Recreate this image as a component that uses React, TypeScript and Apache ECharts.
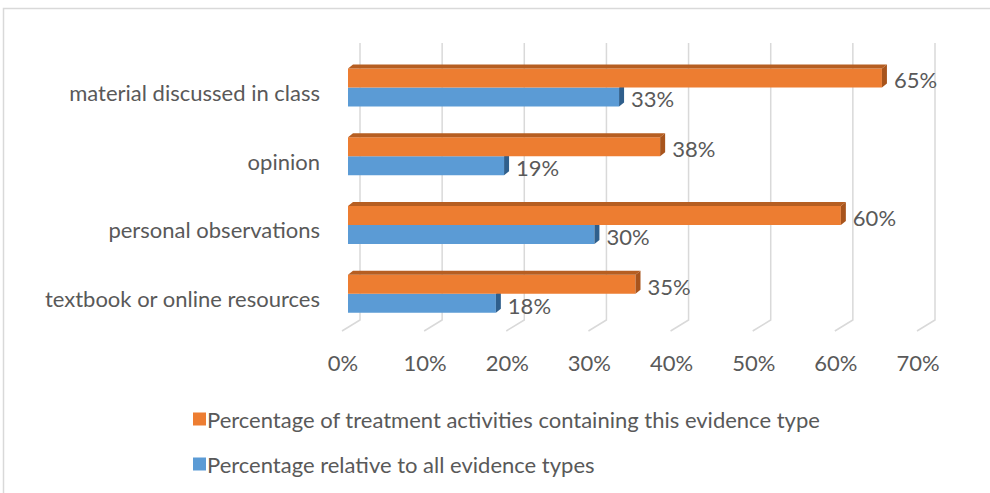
import React, { useEffect, useRef } from "react";
import * as echarts from "echarts";

const categories = [
  "textbook or online resources",
  "personal observations",
  "opinion",
  "material discussed in class",
];
const treatmentPct = [35, 60, 38, 65];
const relativePct = [18, 30, 19, 33];
const xTicks = [0, 10, 20, 30, 40, 50, 60, 70];
const seriesNames = [
  "Percentage of treatment activities containing this evidence type",
  "Percentage relative to all evidence types",
];

export default function App() {
  const ref = useRef<HTMLDivElement>(null);
  useEffect(() => {
    const chart = echarts.init(ref.current!, null, { renderer: "svg" });
    const BW = 19;
    const DX = 5;
    const DY = 4;
    const font = "Lato";
    const FS = 22;
    const txt = "#595959";
    const orange = "#ED7D31";
    const blue = "#5B9BD5";

    const faces = (isTop: boolean, side: string, topColor: string) => (params: any, api: any) => {
      const v = api.value(0);
      const c = api.value(1);
      const p = api.coord([v, c]);
      const x1 = p[0];
      const yc = p[1];
      const x0 = api.coord([0, c])[0];
      const yT = isTop ? yc - BW : yc;
      const yB = isTop ? yc : yc + BW;
      const children: any[] = [];
      if (isTop) {
        children.push({
          type: "polygon",
          shape: { points: [[x0, yT], [x1, yT], [x1 + DX, yT - DY], [x0 + DX, yT - DY]] },
          style: { fill: topColor },
        });
      }
      children.push({
        type: "polygon",
        shape: { points: [[x1, yT], [x1 + DX, yT - DY], [x1 + DX, yB - DY], [x1, yB]] },
        style: { fill: side },
      });
      return { type: "group", children };
    };

    const gridRender = (params: any, api: any) => {
      const cs = params.coordSys;
      const x = api.coord([api.value(0), 0])[0];
      const bottom = cs.y + cs.height;
      const top = cs.y;
      return {
        type: "polyline",
        shape: {
          points: [
            [x - 6, bottom + 3],
            [x + 12, bottom - 8],
            [x + 12, top - 10],
          ],
        },
        style: { fill: "none", stroke: "#D9D9D9", lineWidth: 1.5 },
      };
    };

    const barLabel = {
      show: true,
      position: "right",
      distance: 12,
      offset: [0, 2],
      formatter: "{c}%",
      fontFamily: font,
      fontSize: FS,
      color: txt,
    };

    chart.setOption({
      animation: false,
      backgroundColor: "#ffffff",
      textStyle: { fontFamily: font },
      graphic: [
        {
          type: "rect",
          shape: { x: 3.5, y: 8.5, width: 1100, height: 700 },
          style: { fill: "none", stroke: "#D9D9D9", lineWidth: 1.5 },
          silent: true,
          z: -10,
        },
      ],
      grid: { left: 348, right: 67, top: 53, bottom: 493 - 328 },
      xAxis: {
        type: "value",
        min: 0,
        max: 70,
        interval: 10,
        axisLine: { show: false },
        axisTick: { show: false },
        splitLine: { show: false },
        axisLabel: {
          formatter: "{value}%",
          fontFamily: font,
          fontSize: FS,
          color: txt,
          margin: 23,
          padding: [0, 10, 0, 0],
        },
      },
      yAxis: {
        type: "category",
        data: categories,
        axisLine: { show: false },
        axisTick: { show: false },
        splitLine: { show: false },
        axisLabel: {
          margin: 28,
          formatter: (v: string) => `{a|${v}}`,
          rich: {
            a: {
              fontFamily: font,
              fontSize: FS,
              color: txt,
              padding: [10, 0, 0, 0],
            },
          },
        },
      },
      legend: {
        orient: "vertical",
        left: 188,
        top: 403,
        itemGap: 23,
        itemWidth: 13,
        itemHeight: 13,
        icon: "rect",
        data: [seriesNames[0], seriesNames[1]],
        textStyle: { fontFamily: font, fontSize: FS, color: txt, padding: [0, 0, 0, -4] },
      },
      series: [
        {
          type: "custom",
          silent: true,
          renderItem: gridRender,
          data: xTicks.map((v) => [v, 0]),
          encode: { x: 0, y: 1 },
          clip: false,
          z: 1,
        },
        {
          name: seriesNames[0],
          type: "bar",
          data: treatmentPct,
          barWidth: BW,
          barGap: "0%",
          itemStyle: { color: orange },
          z: 4,
          label: barLabel,
        },
        {
          name: seriesNames[1],
          type: "bar",
          data: relativePct,
          barWidth: BW,
          barGap: "0%",
          itemStyle: { color: blue },
          z: 2,
          label: barLabel,
        },
        {
          type: "custom",
          silent: true,
          renderItem: faces(false, "#2F5F8C", "#2F5F8C"),
          data: relativePct.map((v, i) => [v, i]),
          encode: { x: 0, y: 1 },
          clip: false,
          z: 3,
        },
        {
          type: "custom",
          silent: true,
          renderItem: faces(true, "#A8541C", "#B65E21"),
          data: treatmentPct.map((v, i) => [v, i]),
          encode: { x: 0, y: 1 },
          clip: false,
          z: 5,
        },
      ],
    });
    return () => chart.dispose();
  }, []);
  return (
    <div
      ref={ref}
      style={{ position: "absolute", left: 0, top: 0, width: 990, height: 493 }}
    />
  );
}
